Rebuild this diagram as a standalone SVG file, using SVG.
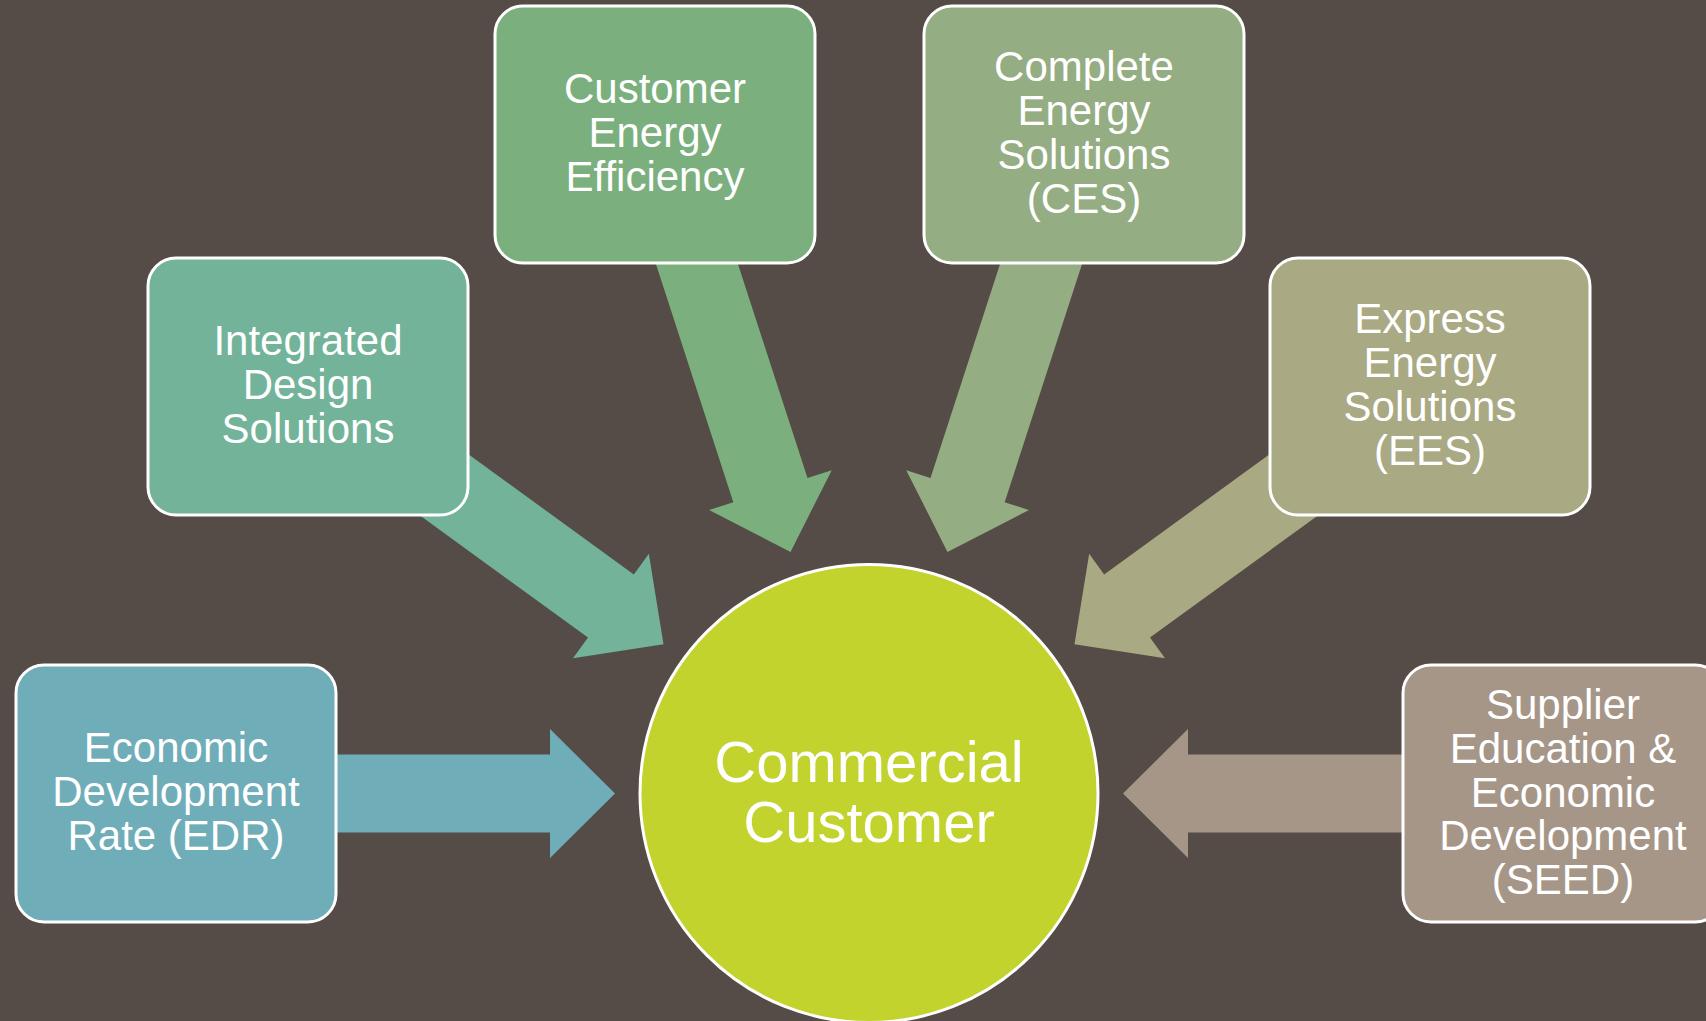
<svg xmlns="http://www.w3.org/2000/svg" width="1706" height="1021" viewBox="0 0 1706 1021">
<style>
.box{stroke:#FFFFFF;stroke-width:3}
.t{font-family:"Liberation Sans",Arial,sans-serif;font-size:42px;fill:#FFFFFF;text-anchor:middle}
.tc{font-family:"Liberation Sans",Arial,sans-serif;font-size:58px;fill:#FFFFFF;text-anchor:middle}
</style>
<defs>
<polygon id="arr" points="-254,0 -319,-64.5 -319,-39 -693,-39 -693,39 -319,39 -319,64.5"/>
</defs>
<rect x="0" y="0" width="1706" height="1021" fill="#554B47"/>
<g id="connectors">
<use href="#arr" fill="#6FADB9" transform="translate(869,793.5) rotate(0)"/>
<use href="#arr" fill="#72B39A" transform="translate(869,793.5) rotate(36)"/>
<use href="#arr" fill="#7BB07E" transform="translate(869,793.5) rotate(72)"/>
<use href="#arr" fill="#95AD82" transform="translate(869,793.5) rotate(108)"/>
<use href="#arr" fill="#A9A984" transform="translate(869,793.5) rotate(144)"/>
<use href="#arr" fill="#A69688" transform="translate(869,793.5) rotate(180)"/>
</g>
<g id="center">
<circle cx="869" cy="793.5" r="229" fill="#C1D32C" stroke="#FFFFFF" stroke-width="3"/>
<text class="tc" x="869" y="782">Commercial</text>
<text class="tc" x="869" y="842">Customer</text>
</g>
<g id="edr">
<rect class="box" x="16" y="665" width="320" height="257" rx="28" fill="#6FADB9"/>
<text class="t" x="176" y="762">Economic</text>
<text class="t" x="176" y="806">Development</text>
<text class="t" x="176" y="850">Rate (EDR)</text>
</g>
<g id="ids">
<rect class="box" x="148" y="258" width="320" height="257" rx="28" fill="#72B39A"/>
<text class="t" x="308" y="355">Integrated</text>
<text class="t" x="308" y="399">Design</text>
<text class="t" x="308" y="443">Solutions</text>
</g>
<g id="cee">
<rect class="box" x="495" y="6" width="320" height="257" rx="28" fill="#7BB07E"/>
<text class="t" x="655" y="103">Customer</text>
<text class="t" x="655" y="147">Energy</text>
<text class="t" x="655" y="191">Efficiency</text>
</g>
<g id="ces">
<rect class="box" x="924" y="6" width="320" height="257" rx="28" fill="#95AD82"/>
<text class="t" x="1084" y="81">Complete</text>
<text class="t" x="1084" y="125">Energy</text>
<text class="t" x="1084" y="169">Solutions</text>
<text class="t" x="1084" y="213">(CES)</text>
</g>
<g id="ees">
<rect class="box" x="1270" y="258" width="320" height="257" rx="28" fill="#A9A984"/>
<text class="t" x="1430" y="333">Express</text>
<text class="t" x="1430" y="377">Energy</text>
<text class="t" x="1430" y="421">Solutions</text>
<text class="t" x="1430" y="465">(EES)</text>
</g>
<g id="seed">
<rect class="box" x="1403" y="665" width="320" height="257" rx="28" fill="#A69688"/>
<text class="t" x="1563" y="719">Supplier</text>
<text class="t" x="1563" y="763">Education &amp;</text>
<text class="t" x="1563" y="807">Economic</text>
<text class="t" x="1563" y="850">Development</text>
<text class="t" x="1563" y="894">(SEED)</text>
</g>
</svg>
